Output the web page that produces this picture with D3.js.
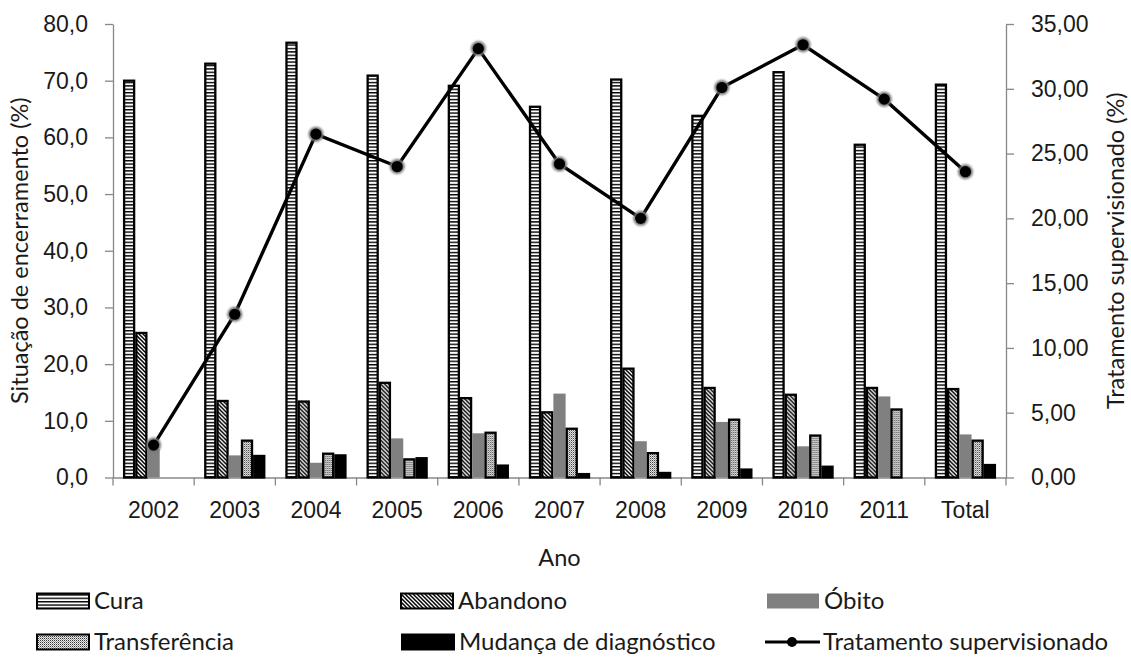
<!DOCTYPE html>
<html>
<head>
<meta charset="utf-8">
<script src="https://cdn.jsdelivr.net/npm/d3@7"></script>
<style>
  body { margin: 0; background: #fff; }
  svg { font-family: Lato, "Open Sans", sans-serif; }
  .axis text { fill: #1a1a1a; }
</style>
</head>
<body>
<div id="chart"></div>
<script>
// categories and values
const years = ['2002', '2003', '2004', '2005', '2006', '2007', '2008', '2009', '2010', '2011', 'Total'];
const series = ['Cura', 'Abandono', 'Óbito', 'Transferência', 'Mudança de diagnóstico'];
const cura = [70.0, 73.0, 76.7, 70.9, 69.1, 65.4, 70.2, 63.8, 71.5, 58.7, 69.3];
const abandono = [25.5, 13.5, 13.4, 16.7, 14.0, 11.5, 19.2, 15.8, 14.6, 15.8, 15.6];
const obito = [5.0, 3.9, 2.6, 6.9, 7.8, 14.8, 6.4, 9.8, 5.5, 14.3, 7.6];
const transferencia = [0.0, 6.5, 4.2, 3.2, 7.9, 8.6, 4.3, 10.2, 7.4, 12.0, 6.5];
const mudanca = [0.0, 3.8, 3.9, 3.4, 2.1, 0.6, 0.8, 1.4, 1.9, 0.0, 2.2];
const supervisionado = [2.5, 12.6, 26.5, 24.0, 33.1, 24.2, 20.0, 30.1, 33.4, 29.2, 23.6];
const leftTicks = [0, 10, 20, 30, 40, 50, 60, 70, 80];
const rightTicks = [0, 5, 10, 15, 20, 25, 30, 35];

const seriesValues = [cura, abandono, obito, transferencia, mudanca];

const width = 1131;
const height = 657;
const margin = { top: 24, left: 113, right: 125, bottom: 179.5 };
const plotW = width - margin.left - margin.right;
const plotH = height - margin.top - margin.bottom;

const svg = d3.select('#chart')
  .append('svg')
  .attr('width', width)
  .attr('height', height);

// fill patterns
const defs = svg.append('defs');

const hs = defs.append('pattern')
  .attr('id', 'p-cura')
  .attr('patternUnits', 'userSpaceOnUse')
  .attr('width', 6).attr('height', 3.4);
hs.append('rect').attr('width', 6).attr('height', 3.4).attr('fill', '#fff');
hs.append('rect').attr('y', 0).attr('width', 6).attr('height', 1.4).attr('fill', '#000');

const dg = defs.append('pattern')
  .attr('id', 'p-aband')
  .attr('patternUnits', 'userSpaceOnUse')
  .attr('width', 4).attr('height', 4);
dg.append('rect').attr('width', 4).attr('height', 4).attr('fill', '#fff');
dg.append('path')
  .attr('d', 'M-1,-1 L5,5 M-1,3 L1,5 M3,-1 L5,1')
  .attr('stroke', '#000').attr('stroke-width', 1.5);

const dt = defs.append('pattern')
  .attr('id', 'p-transf')
  .attr('patternUnits', 'userSpaceOnUse')
  .attr('width', 2).attr('height', 2);
dt.append('rect').attr('width', 2).attr('height', 2).attr('fill', '#eee');
dt.append('rect').attr('width', 1).attr('height', 1).attr('fill', '#333');
dt.append('rect').attr('x', 1).attr('y', 1).attr('width', 1).attr('height', 1).attr('fill', '#999');

const blur = defs.append('filter').attr('id', 'halo')
  .attr('x', '-50%').attr('y', '-50%').attr('width', '200%').attr('height', '200%');
blur.append('feGaussianBlur').attr('stdDeviation', 1.2);

const fills = ['url(#p-cura)', 'url(#p-aband)', '#808080', 'url(#p-transf)', '#000'];
const strokes = ['#000', '#000', 'none', '#000', '#000'];

const g = svg.append('g')
  .attr('transform', `translate(${margin.left},${margin.top})`);

const x = d3.scaleBand().domain(years).range([0, plotW]).padding(0);
const x1 = d3.scaleBand().domain(series).range([10, x.bandwidth() - 10]).padding(0);
const yL = d3.scaleLinear().domain([0, 80]).range([plotH, 0]);
const yR = d3.scaleLinear().domain([0, 35]).range([plotH, 0]);

const comma = (f) => (d) => d3.format(f)(d).replace('.', ',');

// axes
const axisColor = '#888';
const styleAxis = (sel) => {
  sel.selectAll('.domain').attr('stroke', axisColor).attr('stroke-width', 1.3);
  sel.selectAll('.tick line').attr('stroke', axisColor).attr('stroke-width', 1.3);
  sel.selectAll('.tick text').attr('font-size', 23).attr('fill', '#1a1a1a');
};

g.append('g')
  .attr('class', 'axis')
  .call(d3.axisLeft(yL).tickValues(leftTicks).tickSize(8).tickSizeOuter(0).tickPadding(17).tickFormat(comma('.1f')))
  .call(styleAxis);

g.append('g')
  .attr('class', 'axis')
  .attr('transform', `translate(${plotW},0)`)
  .call(d3.axisRight(yR).tickValues(rightTicks).tickSize(8).tickSizeOuter(0).tickPadding(17).tickFormat(comma('.2f')))
  .call(styleAxis);

const xAxis = g.append('g')
  .attr('class', 'axis')
  .attr('transform', `translate(0,${plotH})`)
  .call(d3.axisBottom(x).tickSize(0).tickSizeOuter(0).tickPadding(24))
  .call(styleAxis);

// category boundary ticks
xAxis.selectAll('.bound')
  .data(years.map((d) => x(d)).concat([plotW]))
  .enter()
  .append('line')
  .attr('x1', (d) => d).attr('x2', (d) => d)
  .attr('y1', 0).attr('y2', 8)
  .attr('stroke', axisColor).attr('stroke-width', 1.3);

// bars
const groups = g.selectAll('.year')
  .data(years)
  .enter()
  .append('g')
  .attr('transform', (d) => `translate(${x(d)},0)`);

groups.selectAll('rect')
  .data((d, i) => series.map((s, k) => ({ s, k, v: seriesValues[k][i] })))
  .enter()
  .filter((d) => d.v > 0)
  .append('rect')
  .attr('x', (d) => x1(d.s) + (strokes[d.k] === 'none' ? 0 : 1.1))
  .attr('y', (d) => yL(d.v))
  .attr('width', (d) => x1.bandwidth() - (strokes[d.k] === 'none' ? 0 : 2.2))
  .attr('height', (d) => plotH - yL(d.v))
  .attr('fill', (d) => fills[d.k])
  .attr('stroke', (d) => strokes[d.k])
  .attr('stroke-width', 2.3);

// supervised treatment line
const cx = (i) => x(years[i]) + x.bandwidth() / 2;
const line = d3.line()
  .x((d, i) => cx(i))
  .y((d) => yR(d));

g.append('path')
  .datum(supervisionado)
  .attr('d', line)
  .attr('fill', 'none')
  .attr('stroke', '#000')
  .attr('stroke-width', 3.4)
  .attr('stroke-linejoin', 'miter');

const pts = g.selectAll('.pt')
  .data(supervisionado)
  .enter()
  .append('g')
  .attr('transform', (d, i) => `translate(${cx(i)},${yR(d)})`);
pts.append('circle').attr('r', 7.5).attr('fill', '#777').attr('filter', 'url(#halo)');
pts.append('circle').attr('r', 5.6).attr('fill', '#000');

// axis titles
svg.append('text')
  .attr('transform', `translate(28,${margin.top + plotH / 2}) rotate(-90)`)
  .attr('text-anchor', 'middle')
  .attr('font-size', 23.5)
  .attr('fill', '#1a1a1a')
  .text('Situação de encerramento (%)');

svg.append('text')
  .attr('transform', `translate(1124,${margin.top + plotH / 2}) rotate(-90)`)
  .attr('text-anchor', 'middle')
  .attr('font-size', 23.5)
  .attr('fill', '#1a1a1a')
  .text('Tratamento supervisionado (%)');

svg.append('text')
  .attr('x', margin.left + plotW / 2)
  .attr('y', 566)
  .attr('text-anchor', 'middle')
  .attr('font-size', 23.5)
  .attr('fill', '#1a1a1a')
  .text('Ano');

// legend
const legendItems = [
  { name: 'Cura', k: 0, x: 36, y: 601 },
  { name: 'Abandono', k: 1, x: 400, y: 601 },
  { name: 'Óbito', k: 2, x: 766, y: 601 },
  { name: 'Transferência', k: 3, x: 36, y: 642 },
  { name: 'Mudança de diagnóstico', k: 4, x: 401, y: 642 },
  { name: 'Tratamento supervisionado', k: -1, x: 765, y: 642 }
];

const leg = svg.selectAll('.leg')
  .data(legendItems)
  .enter()
  .append('g')
  .attr('transform', (d) => `translate(${d.x},${d.y})`);

leg.filter((d) => d.k >= 0)
  .append('rect')
  .attr('x', 1).attr('y', -7.5)
  .attr('width', 52).attr('height', 15)
  .attr('fill', (d) => fills[d.k])
  .attr('stroke', (d) => strokes[d.k])
  .attr('stroke-width', 2);

const lineLeg = leg.filter((d) => d.k < 0);
lineLeg.append('line')
  .attr('x1', 0).attr('x2', 55).attr('y1', 0).attr('y2', 0)
  .attr('stroke', '#000').attr('stroke-width', 3);
lineLeg.append('circle').attr('cx', 27).attr('r', 5).attr('fill', '#000');

leg.append('text')
  .attr('x', 58)
  .attr('y', 0)
  .attr('dy', '0.35em')
  .attr('font-size', 24)
  .attr('fill', '#1a1a1a')
  .text((d) => d.name);
</script>
</body>
</html>
